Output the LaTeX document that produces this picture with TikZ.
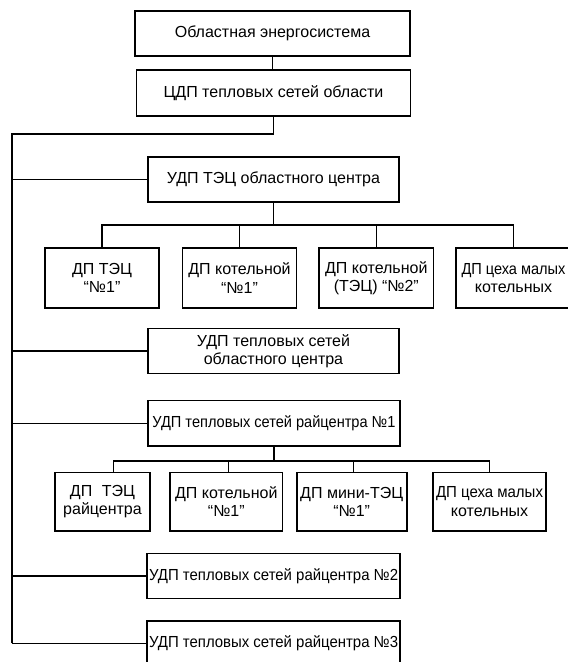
\documentclass[tikz,border=0pt]{standalone}
\usepackage{fontspec}
\setmainfont{Liberation Sans}
\usepackage{graphicx}
\begin{document}
\begin{tikzpicture}[x=1pt,y=-1pt,
  box/.style={draw, line width=1.6pt, align=center, inner sep=0pt,
    font=\fontsize{16}{18.4}\selectfont},
  conn/.style={line width=1.6pt}]
\useasboundingbox (0,0) rectangle (568,662);
\clip (0,0) rectangle (568,662);
\fill[white] (0,0) rectangle (568,662);
% top
\node[box, minimum width=275pt, minimum height=45pt] (A) at (272.5,33.5) {Областная энергосистема};
\node[box, minimum width=274pt, minimum height=46pt] (B) at (273.5,93) {ЦДП тепловых сетей области};
% level 2
\node[box, minimum width=251pt, minimum height=45pt] (C) at (273.5,179.5) {УДП ТЭЦ областного центра};
\node[box, minimum width=114pt, minimum height=60.5pt] (C1) at (102,278) {ДП ТЭЦ\\“№1”};
\node[box, minimum width=114pt, minimum height=60.5pt] (C2) at (239.5,278) {ДП котельной\\“№1”};
\node[box, minimum width=114.7pt, minimum height=60.5pt] (C3) at (376.3,278) {ДП котельной\\(ТЭЦ) “№2”};
\node[box, minimum width=115pt, minimum height=60.5pt] (C4) at (513.5,278) {\resizebox{104pt}{\height}{ДП цеха малых}\\котельных};
\node[box, minimum width=251pt, minimum height=45pt] (D) at (273.5,351) {УДП тепловых сетей\\областного центра};
\node[box, minimum width=252pt, minimum height=45.3pt] (E) at (274,423.3) {\resizebox{243pt}{\height}{УДП тепловых сетей райцентра №1}};
\node[box, minimum width=95pt, minimum height=58.7pt] (E1) at (102.5,501.7) {ДП\hspace{0.6em}ТЭЦ\\райцентра};
\node[box, minimum width=112.7pt, minimum height=58.7pt] (E2) at (226.3,501.7) {ДП котельной\\“№1”};
\node[box, minimum width=110pt, minimum height=58.7pt] (E3) at (351.7,501.7) {ДП мини-ТЭЦ\\“№1”};
\node[box, minimum width=113pt, minimum height=58.7pt] (E4) at (489.5,501.7) {\resizebox{107pt}{\height}{ДП цеха малых}\\котельных};
\node[box, minimum width=252.7pt, minimum height=45pt] (F) at (273.6,575.8) {\resizebox{249pt}{\height}{УДП тепловых сетей райцентра №2}};
\node[box, minimum width=252.7pt, minimum height=45pt] (G) at (273.6,643.5) {\resizebox{249pt}{\height}{УДП тепловых сетей райцентра №3}};
% trunk
\coordinate (bt) at (11.7,134);
\coordinate (bb) at (11.7,643);
\draw[conn] (A.south) -- (A.south |- B.north);
\draw[conn] (B.south) |- (bt) -- (bb);
\draw[conn] (bt |- C.west) -- (C.west);
\draw[conn] (bt |- D.west) -- (D.west);
\draw[conn] (bt |- E.west) -- (E.west);
\draw[conn] (bt |- F.west) -- (F.west);
\draw[conn] (bt |- G.west) -- (G.west);
% C bus
\coordinate (cb) at (0,225);
\draw[conn] (C.south) -- (C.south |- cb);
\draw[conn] (C1.north) |- (C4.north |- cb) -- (C4.north);
\draw[conn] (C2.north) -- (C2.north |- cb);
\draw[conn] (C3.north) -- (C3.north |- cb);
% E bus
\coordinate (eb) at (0,461);
\draw[conn] (E.south) -- (E.south |- eb);
\draw[conn] ([xshift=11pt]E1.north) |- (E4.north |- eb) -- (E4.north);
\draw[conn] ([xshift=2pt]E2.north) -- ([xshift=2pt]E2.north |- eb);
\draw[conn] ([xshift=1.6pt]E3.north) -- ([xshift=1.6pt]E3.north |- eb);
\end{tikzpicture}
\end{document}
